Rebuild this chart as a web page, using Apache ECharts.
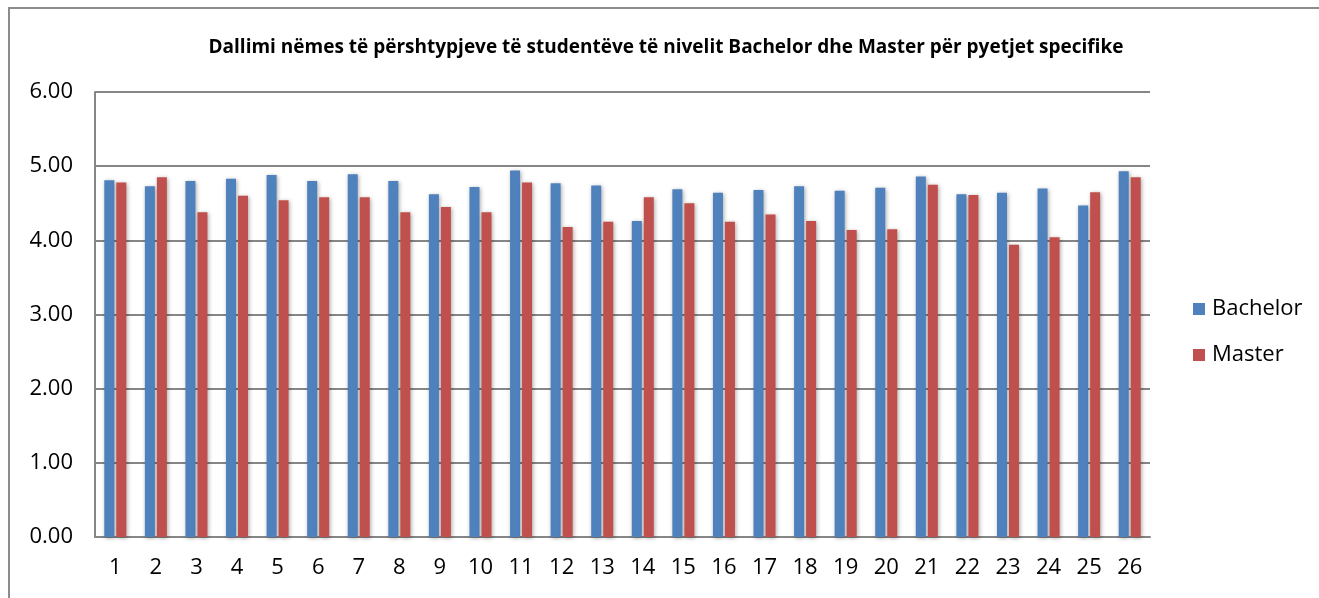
<!DOCTYPE html>
<html>
<head>
<meta charset="utf-8">
<script src="https://cdn.jsdelivr.net/npm/echarts@6/dist/echarts.min.js"></script>
<style>
  html, body { margin: 0; padding: 0; background: #fff; }
  #frame { position: absolute; left: 8px; top: 7px; width: 1311px; height: 591px;
           border-left: 2px solid #8c8c8c; border-top: 2px solid #8c8c8c; }
  #main { position: absolute; left: 0; top: 0; width: 1319px; height: 598px; }
</style>
</head>
<body>
<div id="frame"></div>
<div id="main"></div>
<script>
// pyetjet 1..26
var categories = ['1','2','3','4','5','6','7','8','9','10','11','12','13',
  '14','15','16','17','18','19','20','21','22','23','24','25','26'];

// vlerat mesatare
var bachelor = [4.81,4.73,4.80,4.83,4.88,4.80,4.89,4.80,4.62,4.72,4.94,4.77,4.74,
  4.26,4.69,4.64,4.68,4.73,4.67,4.71,4.86,4.62,4.64,4.70,4.47,4.93];
var master = [4.78,4.85,4.38,4.60,4.54,4.58,4.58,4.38,4.45,4.38,4.78,4.18,4.25,
  4.58,4.50,4.25,4.35,4.26,4.14,4.15,4.75,4.61,3.94,4.04,4.65,4.85];

var chart = echarts.init(document.getElementById('main'), null, { renderer: 'canvas' });

var barShadow = {
  shadowBlur: 4,
  shadowColor: 'rgba(0,0,0,0.35)',
  shadowOffsetX: 1,
  shadowOffsetY: 1
};

var option = {
  animation: false,
  title: {
    text: 'Dallimi nëmes të përshtypjeve të studentëve të nivelit Bachelor dhe Master për pyetjet specifike',
    left: 661,
    textAlign: 'center',
    top: 33,
    textStyle: {
      fontFamily: 'Open Sans',
      fontWeight: 'bold',
      fontSize: 19,
      color: '#000'
    }
  },
  color: ['#4F81BD', '#C0504D'],
  legend: {
    orient: 'vertical',
    left: 1188,
    top: 293,
    itemWidth: 12,
    itemHeight: 12,
    itemGap: 24,
    icon: 'rect',
    textStyle: { fontFamily: 'Open Sans', fontSize: 22, color: '#000', padding: [0, 0, 0, 2] },
    data: ['Bachelor', 'Master']
  },
  grid: {
    left: 95,
    right: 169,
    top: 92,
    bottom: 61,
    containLabel: false
  },
  xAxis: {
    type: 'category',
    data: categories,
    axisLine: { show: true, lineStyle: { color: '#868686', width: 2 } },
    axisTick: { show: false },
    axisLabel: { fontFamily: 'Open Sans', fontSize: 22, color: '#000', margin: 20 }
  },
  yAxis: {
    type: 'value',
    min: 0,
    max: 6,
    interval: 1,
    axisLine: { show: true, lineStyle: { color: '#868686', width: 2 } },
    axisTick: { show: false },
    splitLine: { lineStyle: { color: '#868686', width: 2 } },
    axisLabel: {
      fontFamily: 'Open Sans', fontSize: 22, color: '#000', margin: 22,
      formatter: function (v) { return v.toFixed(2); }
    }
  },
  series: [{
    name: 'Bachelor',
    type: 'bar',
    data: bachelor,
    barWidth: 10,
    barGap: '20%',
    itemStyle: barShadow
  }, {
    name: 'Master',
    type: 'bar',
    data: master,
    barWidth: 10,
    barGap: '20%',
    itemStyle: barShadow
  }]
};

chart.setOption(option);
</script>
</body>
</html>
